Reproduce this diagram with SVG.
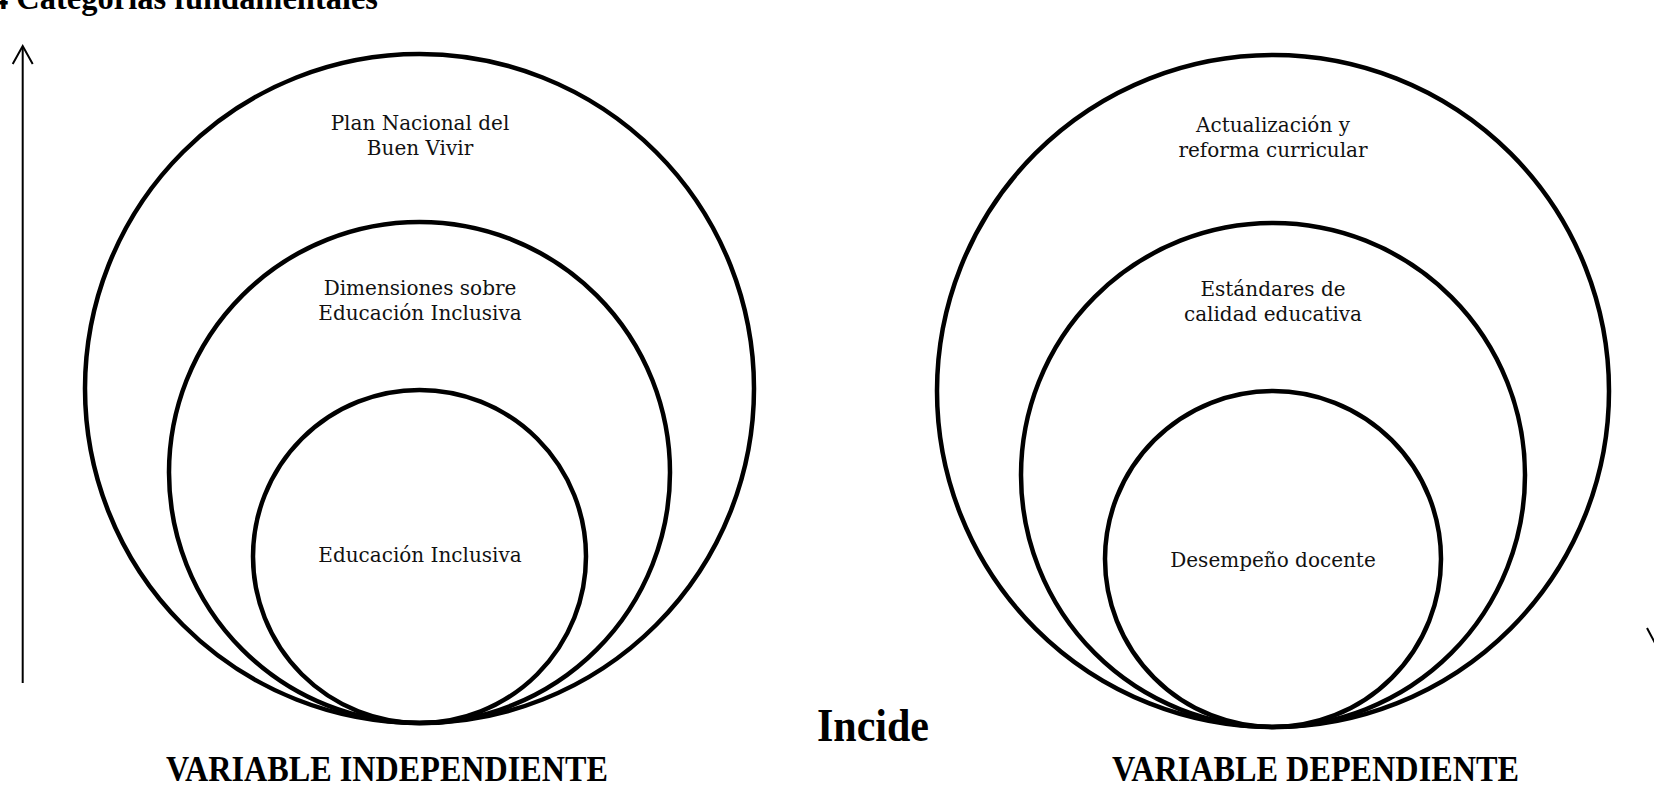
<svg xmlns="http://www.w3.org/2000/svg" width="1654" height="786" viewBox="0 0 1654 786">
<style>
.ring{fill:none;stroke:#000;stroke-width:4.5}
.lbl{font-family:"DejaVu Serif","Liberation Serif",serif;font-size:20px;fill:#111;text-anchor:middle}
.bold{font-family:"Liberation Serif","Times New Roman",serif;font-weight:bold;fill:#000}
.conn{fill:none;stroke:#000;stroke-width:2}
</style>
<rect width="1654" height="786" fill="#fff"/>
<text class="bold" x="-8" y="9" font-size="34" textLength="386" lengthAdjust="spacingAndGlyphs">4 Categorías fundamentales</text>
<g id="connectors">
<line class="conn" x1="22.7" y1="683" x2="22.7" y2="47"/>
<polyline class="conn" points="12.7,64 22.7,46 32.7,64"/>
<line class="conn" x1="1647" y1="628" x2="1656" y2="645"/>
</g>
<g id="plan-nacional">
<circle class="ring" cx="419.5" cy="388.5" r="334.5"/>
<text class="lbl" x="420" y="130">Plan Nacional del</text>
<text class="lbl" x="420" y="155">Buen Vivir</text>
</g>
<g id="dimensiones">
<circle class="ring" cx="419.5" cy="472.5" r="250.5"/>
<text class="lbl" x="420" y="295">Dimensiones sobre</text>
<text class="lbl" x="420" y="320">Educación Inclusiva</text>
</g>
<g id="educacion-inclusiva">
<circle class="ring" cx="419.5" cy="556.5" r="166.5"/>
<text class="lbl" x="420" y="562">Educación Inclusiva</text>
</g>
<g id="actualizacion">
<circle class="ring" cx="1273" cy="391" r="336"/>
<text class="lbl" x="1273" y="132">Actualización y</text>
<text class="lbl" x="1273" y="157">reforma curricular</text>
</g>
<g id="estandares">
<circle class="ring" cx="1273" cy="475" r="252"/>
<text class="lbl" x="1273" y="296">Estándares de</text>
<text class="lbl" x="1273" y="321">calidad educativa</text>
</g>
<g id="desempeno">
<circle class="ring" cx="1273" cy="559" r="168"/>
<text class="lbl" x="1273" y="567">Desempeño docente</text>
</g>
<g id="incide">
<text class="bold" x="817" y="741" font-size="46" textLength="112" lengthAdjust="spacingAndGlyphs">Incide</text>
</g>
<g id="variable-independiente">
<text class="bold" x="166" y="781" font-size="36" textLength="442" lengthAdjust="spacingAndGlyphs">VARIABLE INDEPENDIENTE</text>
</g>
<g id="variable-dependiente">
<text class="bold" x="1112" y="781" font-size="36" textLength="407" lengthAdjust="spacingAndGlyphs">VARIABLE DEPENDIENTE</text>
</g>
</svg>
